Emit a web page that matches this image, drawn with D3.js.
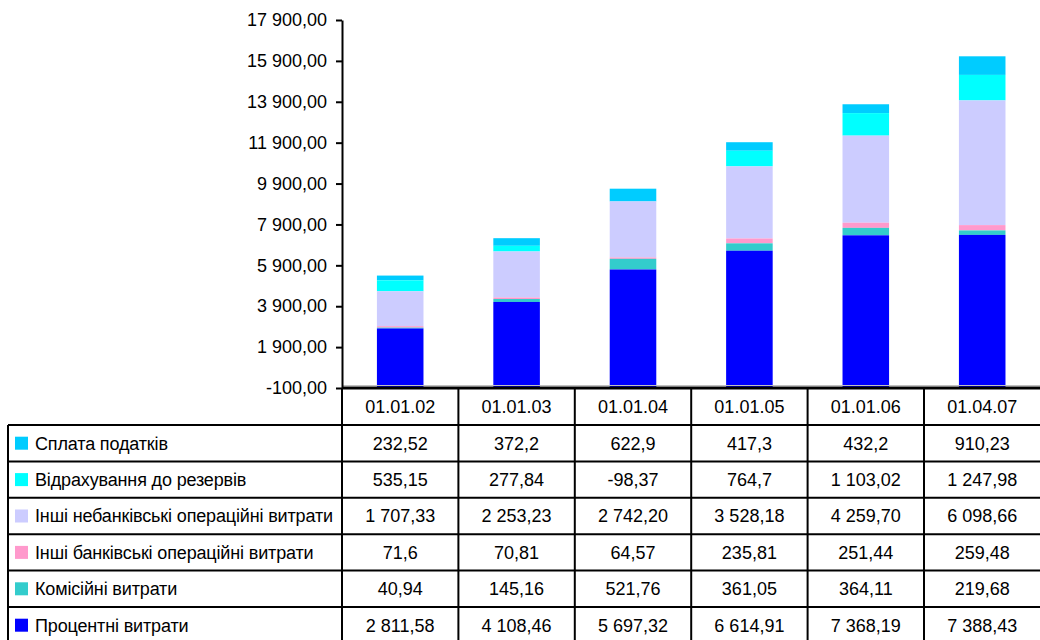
<!DOCTYPE html>
<html>
<head>
<meta charset="utf-8">
<script src="https://cdn.jsdelivr.net/npm/d3@7"></script>
<style>
  html, body { margin: 0; padding: 0; background: #fff; }
  svg { display: block; font-family: "Liberation Sans", Arial, sans-serif; }
</style>
</head>
<body>
<div id="chart"></div>
<script>
// dates along the bottom
const dates = ["01.01.02", "01.01.03", "01.01.04", "01.01.05", "01.01.06", "01.04.07"];

// series, bottom of the stack first
const seriesNames = [
  "Процентні витрати",
  "Комісійні витрати",
  "Інші банківські операційні витрати",
  "Інші небанківські операційні витрати",
  "Відрахування до резервів",
  "Сплата податків"
];
const seriesColors = ["#0000ff", "#33cccc", "#ff99cc", "#ccccff", "#00ffff", "#00ccff"];

const interest   = [2811.58, 4108.46, 5697.32, 6614.91, 7368.19, 7388.43];
const commission = [40.94, 145.16, 521.76, 361.05, 364.11, 219.68];
const otherBank  = [71.6, 70.81, 64.57, 235.81, 251.44, 259.48];
const otherNon   = [1707.33, 2253.23, 2742.20, 3528.18, 4259.70, 6098.66];
const reserves   = [535.15, 277.84, -98.37, 764.7, 1103.02, 1247.98];
const taxes      = [232.52, 372.2, 622.9, 417.3, 432.2, 910.23];
const seriesValues = [interest, commission, otherBank, otherNon, reserves, taxes];

const yTicks = [-100, 1900, 3900, 5900, 7900, 9900, 11900, 13900, 15900, 17900];

const W = 1040, H = 640;
const plot = { left: 342, right: 1040.4, top: 20, bottom: 388 };
const rowTop = 425, rowH = 36.4, tableLeft = 8;

const loc = d3.formatLocale({ decimal: ",", thousands: " ", grouping: [3], currency: ["", ""], minus: "-" });
const fmtTick = loc.format(",.2f");
function fmtCell(v) {
  return Math.abs(v) >= 1000 ? loc.format(",.2f")(v) : String(v).replace(".", ",");
}

const svg = d3.select("#chart").append("svg").attr("width", W).attr("height", H);

const y = d3.scaleLinear().domain([yTicks[0], yTicks[yTicks.length - 1]]).range([plot.bottom, plot.top]);
const xCol = d3.scaleBand().domain(dates).range([plot.left, plot.right]).padding(0);
const xBar = d3.scaleBand().domain(dates).range([plot.left, plot.right]).paddingInner(0.6).paddingOuter(0.3);

/* stacked bars */
const rows = dates.map((d, i) => {
  const r = { date: d };
  seriesNames.forEach((s, k) => { r[s] = seriesValues[k][i]; });
  return r;
});
const stacked = d3.stack().keys(seriesNames).offset(d3.stackOffsetDiverging)(rows);

const gBars = svg.append("g");
// drawn top layer first so the bottom series (which starts at the axis) lies over the small negative piece
stacked.slice().reverse().forEach(layer => {
  const k = layer.index;
  gBars.append("g").attr("fill", seriesColors[k])
    .selectAll("rect").data(layer).join("rect")
    .attr("x", d => xBar(d.data.date))
    .attr("width", xBar.bandwidth())
    .attr("y", d => y(d[1]))
    .attr("height", d => {
      const base = (k === 0 && d[0] === 0) ? y.domain()[0] : d[0];
      return Math.max(0, y(base) - y(d[1]));
    });
});

/* faint category axis line */
svg.append("line").attr("x1", plot.left).attr("x2", plot.right)
  .attr("y1", plot.bottom - 2.5).attr("y2", plot.bottom - 2.5)
  .attr("stroke", "#c0c0c0").attr("stroke-width", 1);

/* value axis */
const yAxis = svg.append("g").attr("transform", `translate(${plot.left},0)`)
  .call(d3.axisLeft(y).tickValues(yTicks).tickFormat(fmtTick).tickSize(6).tickSizeOuter(0).tickPadding(9));
yAxis.select(".domain").attr("stroke", "#000").attr("stroke-width", 2);
yAxis.selectAll(".tick line").attr("stroke", "#000").attr("stroke-width", 2);
yAxis.selectAll(".tick text").attr("fill", "#000").attr("font-size", 18)
  .attr("font-family", "Liberation Sans, Arial, sans-serif");

/* data table */
const gTab = svg.append("g");
const line = (x1, y1, x2, y2, w) => gTab.append("line")
  .attr("x1", x1).attr("y1", y1).attr("x2", x2).attr("y2", y2)
  .attr("stroke", "#000").attr("stroke-width", w || 2);

// header row with dates
dates.forEach(d => {
  gTab.append("text").attr("x", xCol(d) + xCol.bandwidth() / 2).attr("y", (plot.bottom + rowTop) / 2)
    .attr("text-anchor", "middle").attr("dy", "0.35em").attr("font-size", 18).text(d);
});

// series rows, top of the stack first
const tableOrder = d3.range(seriesNames.length).reverse();
tableOrder.forEach((k, r) => {
  const ry = rowTop + r * rowH;
  const cy = ry + rowH / 2;
  gTab.append("rect").attr("x", 15).attr("y", cy - 6.5).attr("width", 13).attr("height", 13)
    .attr("fill", seriesColors[k]);
  gTab.append("text").attr("x", 35).attr("y", cy).attr("dy", "0.35em")
    .attr("font-size", 18).attr("letter-spacing", "-0.15px").text(seriesNames[k]);
  dates.forEach((d, i) => {
    gTab.append("text").attr("x", xCol(d) + xCol.bandwidth() / 2).attr("y", cy)
      .attr("text-anchor", "middle").attr("dy", "0.35em").attr("font-size", 18)
      .text(fmtCell(seriesValues[k][i]));
  });
});

// grid of the table
line(plot.left, plot.bottom, plot.right + 2, plot.bottom, 3);
for (let r = 0; r <= seriesNames.length; r++) {
  line(tableLeft, rowTop + r * rowH, plot.right + 2, rowTop + r * rowH);
}
line(tableLeft, rowTop, tableLeft, H);
dates.forEach(d => line(xCol(d), plot.bottom, xCol(d), H));
</script>
</body>
</html>
